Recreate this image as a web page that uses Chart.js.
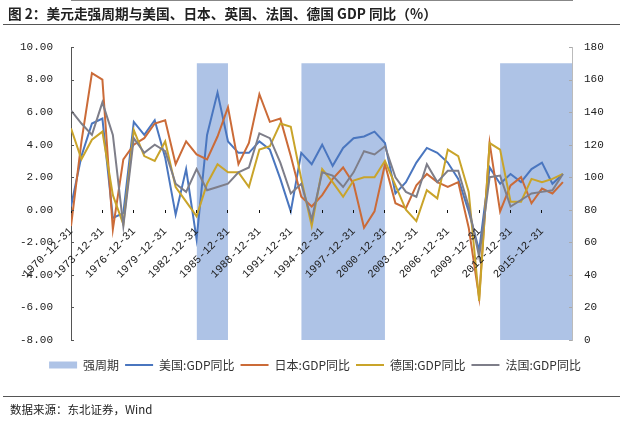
<!DOCTYPE html>
<html>
<head>
<meta charset="utf-8">
<script src="https://cdn.jsdelivr.net/npm/chart.js@4.4.1/dist/chart.umd.min.js"></script>
<style>
  body { margin: 0; width: 630px; height: 421px; position: relative; background: #fff; overflow: hidden;
         font-family: "Noto Sans CJK SC", sans-serif; color: #222; }
  #title { position: absolute; left: 8px; top: 3px; font-size: 13.7px; line-height: 20px; font-weight: bold; white-space: nowrap; }
  .rule { position: absolute; left: 3px; width: 617px; border-top: 1.5px solid #555; }
  #source { position: absolute; left: 10px; top: 401px; font-size: 11.5px; white-space: nowrap; }
  #myChart { position: absolute; left: 0; top: 0; }
</style>
</head>
<body>
<canvas id="myChart" width="630" height="421"></canvas>
<div id="title">图 2：美元走强周期与美国、日本、英国、法国、德国 GDP 同比（%）</div>
<div class="rule" style="top:24px"></div>
<div class="rule" style="top:396px"></div>
<div id="source">数据来源：东北证券，Wind</div>
<script>
const years = [1970, 1971, 1972, 1973, 1974, 1975, 1976, 1977, 1978, 1979,
  1980, 1981, 1982, 1983, 1984, 1985, 1986, 1987, 1988, 1989,
  1990, 1991, 1992, 1993, 1994, 1995, 1996, 1997, 1998, 1999,
  2000, 2001, 2002, 2003, 2004, 2005, 2006, 2007, 2008, 2009,
  2010, 2011, 2012, 2013, 2014, 2015, 2016, 2017];

const usGdp = [0.2, 3.3, 5.3, 5.6, -0.5, -0.2, 5.4, 4.6, 5.5, 3.2,
  -0.3, 2.5, -1.8, 4.6, 7.2, 4.2, 3.5, 3.5, 4.2, 3.7,
  1.9, -0.1, 3.5, 2.8, 4.0, 2.7, 3.8, 4.4, 4.5, 4.8,
  4.1, 1.0, 1.7, 2.9, 3.8, 3.5, 2.9, 1.9, -0.1, -2.5,
  2.6, 1.6, 2.2, 1.7, 2.5, 2.9, 1.6, 2.2];
const jpGdp = [-1.0, 4.2, 8.4, 8.0, -1.2, 3.1, 4.0, 4.4, 5.3, 5.5,
  2.8, 4.2, 3.4, 3.1, 4.5, 6.3, 2.8, 4.1, 7.1, 5.4,
  5.6, 3.3, 0.8, 0.2, 0.9, 1.9, 2.6, 1.6, -1.1, -0.1,
  2.8, 0.4, 0.1, 1.5, 2.2, 1.7, 1.4, 1.7, -1.1, -5.4,
  4.1, -0.1, 1.5, 2.0, 0.4, 1.3, 1.0, 1.7];
const deGdp = [5.0, 3.1, 4.3, 4.8, 0.9, -0.9, 4.9, 3.3, 3.0, 4.2,
  1.4, 0.5, -0.4, 1.6, 2.8, 2.3, 2.3, 1.4, 3.7, 3.9,
  5.3, 5.1, 1.9, -1.0, 2.5, 1.7, 0.8, 1.8, 2.0, 2.0,
  3.0, 1.5, 0.0, -0.7, 1.2, 0.7, 3.7, 3.3, 1.1, -5.6,
  4.1, 3.7, 0.5, 0.5, 1.9, 1.7, 1.9, 2.2];
const frGdp = [6.1, 5.3, 4.6, 6.6, 4.6, -1.0, 4.4, 3.5, 4.0, 3.6,
  1.6, 1.1, 2.5, 1.2, 1.4, 1.6, 2.3, 2.6, 4.7, 4.4,
  2.9, 1.0, 1.6, -0.6, 2.3, 2.1, 1.4, 2.3, 3.6, 3.4,
  3.9, 2.0, 1.1, 0.8, 2.8, 1.7, 2.4, 2.4, 0.2, -2.9,
  2.0, 2.1, 0.2, 0.6, 1.0, 1.1, 1.2, 2.2];

// 强周期 shading (right axis value)
const strongPeriods = [[1982, 1985], [1992, 2000], [2011, 2018]];
const strongLevel = 170;

const tickYears = [1970, 1973, 1976, 1979, 1982, 1985, 1988, 1991, 1994, 1997, 2000, 2003, 2006, 2009, 2012, 2015];

const strongLabel = "强周期";
const seriesNames = ["美国:GDP同比", "日本:GDP同比", "德国:GDP同比", "法国:GDP同比"];

function points(vals) {
  return years.map((yr, i) => ({ x: yr, y: vals[i] }));
}

const bandPoints = strongPeriods.flatMap(([a, b]) => [
  { x: a, y: strongLevel }, { x: b, y: strongLevel }, { x: b, y: null }
]);

const numFont = { family: "Liberation Mono", size: 11 };

// tick marks pointing into the plot on both value axes
const innerTicks = {
  id: "innerTicks",
  afterDraw(chart) {
    const c = chart.ctx;
    const left = chart.scales.y;
    const right = chart.scales.y1;
    c.save();
    c.lineWidth = 1;
    c.strokeStyle = "#555";
    left.ticks.forEach((t) => {
      const p = Math.round(left.getPixelForValue(t.value)) + 0.5;
      c.beginPath(); c.moveTo(left.right, p); c.lineTo(left.right + 3, p); c.stroke();
    });
    c.strokeStyle = "#aaa";
    right.ticks.forEach((t) => {
      const p = Math.round(right.getPixelForValue(t.value)) + 0.5;
      c.beginPath(); c.moveTo(right.left - 3, p); c.lineTo(right.left, p); c.stroke();
    });
    c.restore();
  }
};

function lineSet(label, vals, color, order) {
  return {
    label: label,
    data: points(vals),
    borderColor: color,
    backgroundColor: color,
    borderWidth: 2,
    pointRadius: 0,
    pointStyle: "line",
    tension: 0,
    fill: false,
    order: order
  };
}

const ctx = document.getElementById("myChart").getContext("2d");
const myChart = new Chart(ctx, {
  type: "line",
  data: {
    datasets: [
      {
        label: strongLabel,
        data: bandPoints,
        yAxisID: "y1",
        backgroundColor: "#AEC3E6",
        borderColor: "rgba(0,0,0,0)",
        borderWidth: 0,
        pointRadius: 0,
        pointStyle: "rect",
        fill: "origin",
        spanGaps: false,
        order: 5
      },
      lineSet(seriesNames[0], usGdp, "#4A76BF", 4),
      lineSet(seriesNames[1], jpGdp, "#CB6B38", 3),
      lineSet(seriesNames[2], deGdp, "#C9A42A", 2),
      lineSet(seriesNames[3], frGdp, "#7E7E89", 1)
    ]
  },
  options: {
    responsive: false,
    animation: false,
    layout: { padding: { top: 47, left: 0, right: 0, bottom: 40 } },
    plugins: {
      tooltip: { enabled: false },
      legend: {
        position: "bottom",
        title: { display: true, text: "", font: { size: 1, lineHeight: 1 }, padding: { top: 12, bottom: 0 } },
        labels: {
          usePointStyle: true,
          pointStyleWidth: 28,
          boxHeight: 7,
          padding: 6,
          color: "#333",
          font: { family: "Noto Sans CJK SC", size: 12 },
          sort: (a, b) => a.datasetIndex - b.datasetIndex
        }
      }
    },
    scales: {
      x: {
        type: "linear",
        position: { y: 0 },
        min: 1970,
        max: 2017.87,
        afterBuildTicks: (s) => { s.ticks = tickYears.map((v) => ({ value: v })); },
        ticks: {
          z: 1,
          autoSkip: false,
          minRotation: 45,
          maxRotation: 45,
          padding: 12,
          color: "#222",
          font: numFont,
          callback: (v) => v + "-12-31"
        },
        grid: { drawOnChartArea: false, tickLength: 3, color: "#111", z: 1 },
        border: { color: "#111", width: 1 }
      },
      y: {
        position: "left",
        min: -8,
        max: 10,
        ticks: { stepSize: 2, padding: 18, color: "#222", font: numFont, callback: (v) => v.toFixed(2) },
        grid: { display: false, drawTicks: false },
        border: { display: true, color: "#555" },
        afterFit: (s) => { s.width = 71; }
      },
      y1: {
        position: "right",
        min: 0,
        max: 180,
        ticks: { stepSize: 20, padding: 12, color: "#222", font: numFont },
        grid: { display: false, drawTicks: false },
        border: { display: true, color: "#bbb" },
        afterFit: (s) => { s.width = 58; }
      }
    }
  },
  plugins: [innerTicks]
});
</script>
</body>
</html>
